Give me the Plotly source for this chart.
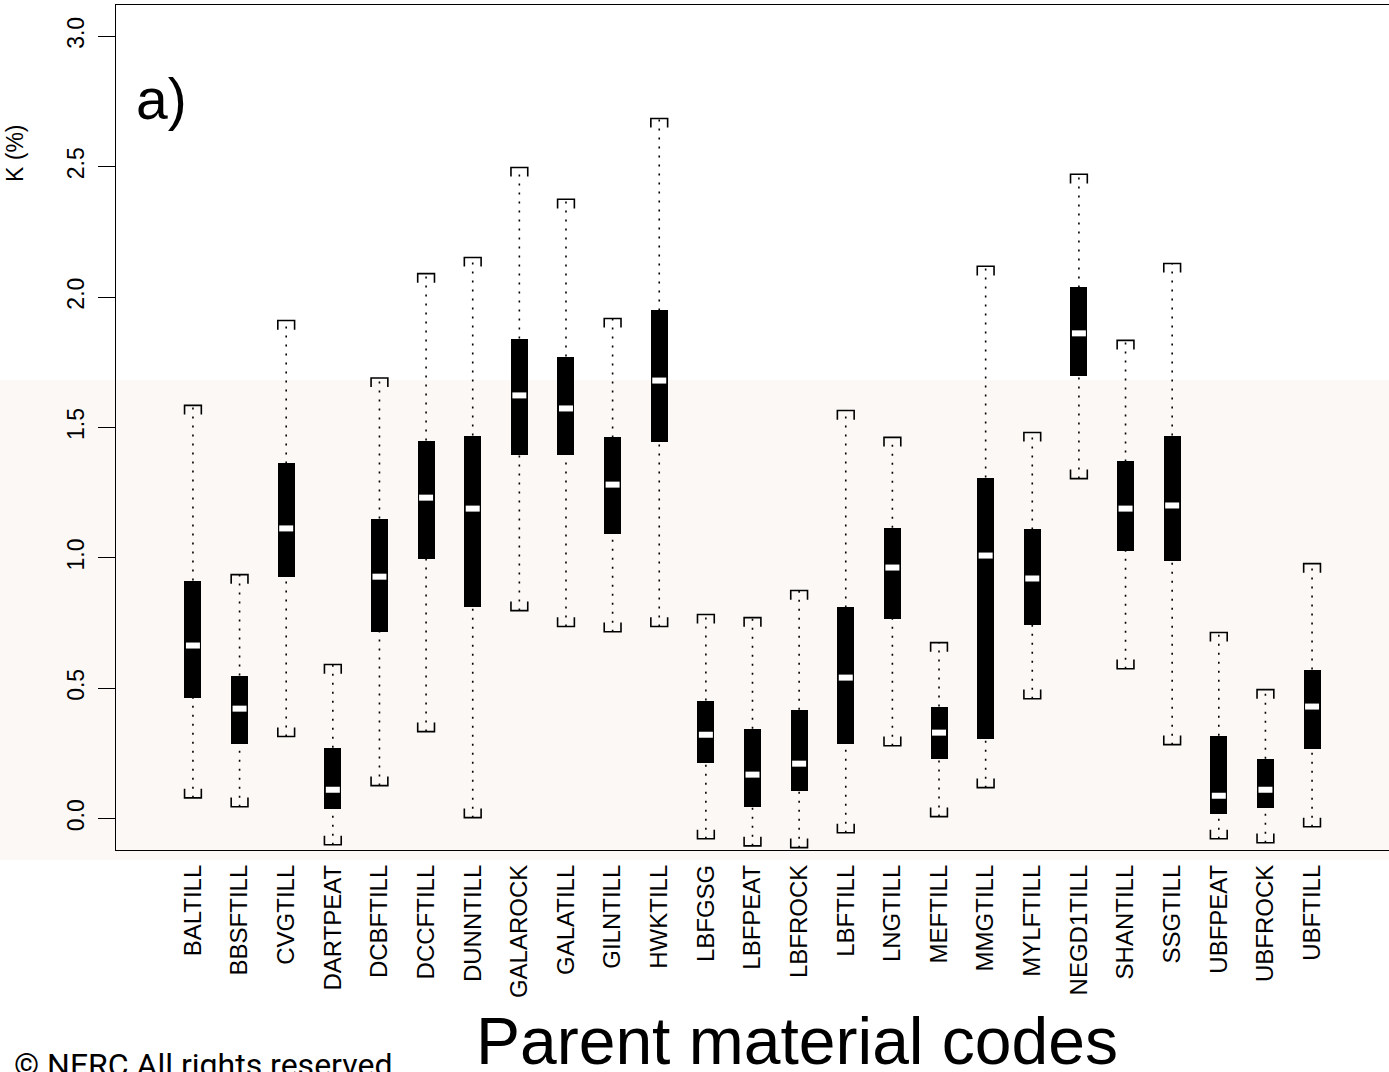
import plotly.graph_objects as go

categories = ["BALTILL", "BBSFTILL", "CVGTILL", "DARTPEAT", "DCBFTILL", "DCCFTILL",
              "DUNNTILL", "GALAROCK", "GALATILL", "GILNTILL", "HWKTILL", "LBFGSG",
              "LBFPEAT", "LBFROCK", "LBFTILL", "LNGTILL", "MEFTILL", "MMGTILL",
              "MYLFTILL", "NEGD1TILL", "SHANTILL", "SSGTILL", "UBFPEAT", "UBFROCK",
              "UBFTILL"]
upper_whisker = [1.585, 0.936, 1.91, 0.591, 1.69, 2.09, 2.152, 2.497, 2.375, 1.918, 2.685, 0.783,
                 0.771, 0.875, 1.565, 1.462, 0.675, 2.118, 1.481, 2.471, 1.834, 2.129, 0.714, 0.495,
                 0.978]
q3 = [0.913, 0.549, 1.362, 0.272, 1.151, 1.45, 1.469, 1.841, 1.772, 1.462, 1.949, 0.453,
      0.345, 0.418, 0.81, 1.116, 0.43, 1.308, 1.109, 2.037, 1.37, 1.469, 0.318, 0.23,
      0.572]
median = [0.664, 0.422, 1.113, 0.111, 0.928, 1.231, 1.189, 1.623, 1.573, 1.281, 1.68, 0.322,
          0.169, 0.211, 0.541, 0.963, 0.33, 1.009, 0.921, 1.861, 1.189, 1.201, 0.088, 0.111,
          0.43]
q1 = [0.464, 0.288, 0.925, 0.038, 0.717, 0.997, 0.81, 1.396, 1.393, 1.09, 1.446, 0.215,
      0.046, 0.107, 0.288, 0.767, 0.23, 0.307, 0.744, 1.696, 1.028, 0.99, 0.019, 0.042,
      0.269]
lower_whisker = [0.08, 0.046, 0.315, -0.10, 0.127, 0.334, 0.004, 0.798, 0.737, 0.717, 0.737, -0.077,
                 -0.104, -0.111, -0.054, 0.28, 0.008, 0.119, 0.46, 1.304, 0.575, 0.284, -0.077, -0.092,
                 -0.031]
y_ticks = [0.0, 0.5, 1.0, 1.5, 2.0, 2.5, 3.0]

pos = list(range(1, len(categories) + 1))
BOX_W = 0.365
CAP_HW = 0.18
CAP_D = 0.035
MED_HW = 0.15

fig = go.Figure()

# whiskers (dotted)
wx, wy = [], []
for p, lo, a, b, hi in zip(pos, lower_whisker, q1, q3, upper_whisker):
    wx += [p, p, None, p, p, None]
    wy += [lo, a, None, b, hi, None]
fig.add_trace(go.Scatter(x=wx, y=wy, mode="lines", hoverinfo="skip",
                         line=dict(color="black", width=1.6, dash="2px,7px")))

# caps (brackets)
cx, cy = [], []
for p, lo, hi in zip(pos, lower_whisker, upper_whisker):
    cx += [p - CAP_HW, p - CAP_HW, p + CAP_HW, p + CAP_HW, None]
    cy += [hi - CAP_D, hi, hi, hi - CAP_D, None]
    cx += [p - CAP_HW, p - CAP_HW, p + CAP_HW, p + CAP_HW, None]
    cy += [lo + CAP_D, lo, lo, lo + CAP_D, None]
fig.add_trace(go.Scatter(x=cx, y=cy, mode="lines", hoverinfo="skip",
                         line=dict(color="black", width=1.6)))

# boxes
fig.add_trace(go.Bar(x=pos, y=[b - a for a, b in zip(q1, q3)], base=q1, width=BOX_W,
                     marker=dict(color="black", line=dict(width=0))))

# medians
mx, my = [], []
for p, m in zip(pos, median):
    mx += [p - MED_HW, p + MED_HW, None]
    my += [m, m, None]
fig.add_trace(go.Scatter(x=mx, y=my, mode="lines", hoverinfo="skip",
                         line=dict(color="white", width=6)))

W, H = 1389, 1072
L, T, B = 116, 5, 222
pw, ph = W - L, H - T - B

def px_x(x):
    return (x - L) / pw

def px_y(y):
    return (H - B - y) / ph

fig.add_shape(type="rect", xref="paper", yref="paper",
              x0=px_x(0), x1=px_x(1389), y0=px_y(860), y1=px_y(380),
              fillcolor="#fbf8f5", line=dict(width=0), layer="below")

fig.add_annotation(text="a)", xref="paper", yref="paper", x=px_x(134), y=px_y(99),
                   xanchor="left", yanchor="middle", showarrow=False,
                   font=dict(family="Liberation Sans, Arial", size=57, color="black"))
fig.add_annotation(text="K (%)", xref="paper", yref="paper", x=px_x(15), y=px_y(153),
                   xanchor="center", yanchor="middle", showarrow=False, textangle=-90,
                   font=dict(family="Liberation Sans, Arial", size=23, color="black"))
fig.add_annotation(text="Parent material codes", xref="paper", yref="paper",
                   x=px_x(797), y=px_y(1041), xanchor="center", yanchor="middle",
                   showarrow=False,
                   font=dict(family="Liberation Sans, Arial", size=66, color="black"))
fig.add_annotation(text="© NERC All rights reserved", xref="paper", yref="paper",
                   x=px_x(12), y=px_y(1065), xanchor="left", yanchor="middle",
                   showarrow=False,
                   font=dict(family="Roboto, Liberation Sans", size=32, color="black"))

fig.update_layout(
    width=W, height=H,
    margin=dict(l=L, r=0, t=T, b=B, pad=0),
    paper_bgcolor="white", plot_bgcolor="rgba(0,0,0,0)",
    showlegend=False, bargap=0,
    xaxis=dict(range=[-0.65, 26.65], tickmode="array", tickvals=pos, ticktext=categories,
               tickangle=-90, ticks="", showgrid=False, zeroline=False,
               ticklabelstandoff=4,
               showline=True, linecolor="black", linewidth=1.3, mirror=True,
               tickfont=dict(family="Liberation Sans, Arial", size=24, color="black")),
    yaxis=dict(range=[-0.12, 3.12], tickmode="array", tickvals=y_ticks,
               ticktext=[f"{v:.1f}" for v in y_ticks], tickangle=-90,
               ticks="outside", ticklen=17, tickwidth=1.3, tickcolor="black",
               ticklabelstandoff=5,
               showgrid=False, zeroline=False, showline=True, linecolor="black", linewidth=1.3,
               tickfont=dict(family="Liberation Sans, Arial", size=23, color="black")),
)

fig.write_html("out.html", config={"displayModeBar": False},
               post_script="document.body.style.margin='0px';document.body.style.overflow='hidden';")
